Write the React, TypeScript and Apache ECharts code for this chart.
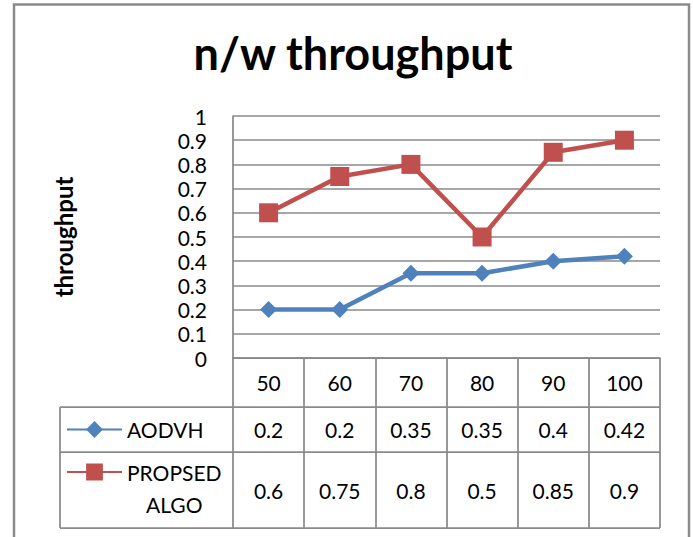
import React, { useEffect, useRef } from "react";
import * as echarts from "echarts";

const categories = ["50", "60", "70", "80", "90", "100"];
const aodvh = [0.2, 0.2, 0.35, 0.35, 0.4, 0.42];
const propsed = [0.6, 0.75, 0.8, 0.5, 0.85, 0.9];
const yTicks = ["0", "0.1", "0.2", "0.3", "0.4", "0.5", "0.6", "0.7", "0.8", "0.9", "1"];

const FONT = "Lato";
const GRAY = "#8a8a8a";
const BLUE = "#4F81BD";
const RED = "#C0504D";

export default function App() {
  const ref = useRef<HTMLDivElement>(null);
  useEffect(() => {
    if (!ref.current) return;
    const chart = echarts.init(ref.current, null, { renderer: "svg" });
    const labelBase = { fontFamily: FONT, fontSize: 21, color: "#000", lineHeight: 24 };
    chart.setOption({
      animation: false,
      backgroundColor: "#fff",
      title: {
        text: "n/w throughput",
        left: 353,
        top: 27,
        textAlign: "center",
        padding: 0,
        textStyle: { fontFamily: FONT, fontSize: 45, fontWeight: "bold", color: "#000", lineHeight: 52 },
      },
      grid: { left: 233, top: 116, width: 427, height: 242, containLabel: false },
      legend: [
        {
          data: ["AODVH"],
          left: 66,
          top: 419,
          padding: 0,
          itemWidth: 55,
          itemHeight: 21,
          selectedMode: false,
          textStyle: { fontFamily: FONT, fontSize: 21, color: "#000" },
        },
        {
          data: ["PROPSED ALGO"],
          left: 66,
          top: 424,
          padding: 0,
          itemWidth: 55,
          itemHeight: 21,
          selectedMode: false,
          formatter: () => "{a|PROPSED}\n{b|ALGO}",
          textStyle: {
            fontFamily: FONT,
            fontSize: 21,
            color: "#000",
            lineHeight: 32,
            padding: [32, 0, 0, 0],
            rich: {
              a: { fontFamily: FONT, fontSize: 21, color: "#000", lineHeight: 32 },
              b: { fontFamily: FONT, fontSize: 21, color: "#000", lineHeight: 32, align: "center" },
            },
          },
        },
      ],
      xAxis: [
        {
          type: "category",
          data: categories,
          position: "bottom",
          boundaryGap: true,
          axisLine: { show: true, lineStyle: { color: GRAY, width: 1.75 } },
          axisTick: { show: true, length: 170, interval: 0, alignWithLabel: false, lineStyle: { color: GRAY, width: 1.75 } },
          axisLabel: { ...labelBase, margin: 12, interval: 0 },
          splitLine: { show: false },
        },
        {
          type: "category",
          data: categories,
          position: "bottom",
          offset: 0,
          axisLine: { show: false },
          axisTick: { show: false },
          axisLabel: { ...labelBase, margin: 59, interval: 0, formatter: (_v: string, i: number) => String(aodvh[i]) },
        },
        {
          type: "category",
          data: categories,
          position: "bottom",
          offset: 0,
          axisLine: { show: false },
          axisTick: { show: false },
          axisLabel: { ...labelBase, margin: 120, interval: 0, formatter: (_v: string, i: number) => String(propsed[i]) },
        },
      ],
      yAxis: {
        type: "value",
        min: 0,
        max: 1,
        interval: 0.1,
        name: "throughput",
        nameLocation: "middle",
        nameRotate: 90,
        nameGap: 158,
        nameTextStyle: { fontFamily: FONT, fontSize: 24, fontWeight: "bold", color: "#000" },
        axisLine: { show: true, lineStyle: { color: GRAY, width: 1.75 } },
        axisTick: { show: false },
        axisLabel: {
          fontFamily: FONT,
          fontSize: 21,
          color: "#000",
          margin: 26,
          formatter: (v: number) => yTicks[Math.round(v * 10)],
        },
        splitLine: { show: true, lineStyle: { color: GRAY, width: 1.5 } },
      },
      series: [
        {
          name: "AODVH",
          type: "line",
          data: aodvh,
          xAxisIndex: 0,
          symbol: "diamond",
          symbolSize: 17,
          lineStyle: { color: BLUE, width: 4.5 },
          itemStyle: { color: BLUE },
        },
        {
          name: "PROPSED ALGO",
          type: "line",
          data: propsed,
          xAxisIndex: 0,
          symbol: "rect",
          symbolSize: 19,
          lineStyle: { color: RED, width: 4.5 },
          itemStyle: { color: RED },
        },
      ],
      graphic: [
        {
          type: "rect",
          shape: { x: 14, y: 4.5, width: 675, height: 560 },
          style: { fill: "none", stroke: GRAY, lineWidth: 2.5 },
          silent: true,
        },
        { type: "line", shape: { x1: 60, y1: 407, x2: 660, y2: 407 }, style: { stroke: GRAY, lineWidth: 1.75 }, silent: true },
        { type: "line", shape: { x1: 60, y1: 452, x2: 660, y2: 452 }, style: { stroke: GRAY, lineWidth: 1.75 }, silent: true },
        { type: "line", shape: { x1: 60, y1: 528, x2: 660, y2: 528 }, style: { stroke: GRAY, lineWidth: 1.75 }, silent: true },
        { type: "line", shape: { x1: 60, y1: 407, x2: 60, y2: 528 }, style: { stroke: GRAY, lineWidth: 1.75 }, silent: true },
      ],
    });
    return () => chart.dispose();
  }, []);
  return (
    <div
      ref={ref}
      style={{ position: "absolute", left: 0, top: 0, width: 693, height: 537, background: "#fff" }}
    />
  );
}
